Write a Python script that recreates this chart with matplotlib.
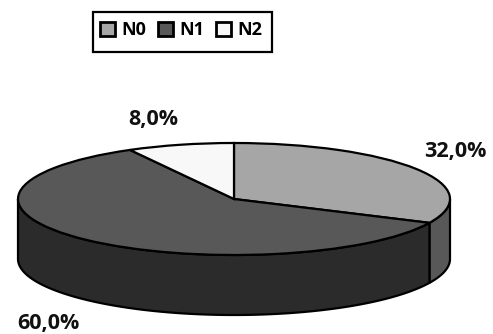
import numpy as np
import matplotlib
matplotlib.use("Agg")
import matplotlib.pyplot as plt
from matplotlib.patches import Rectangle

labels = ["N0", "N1", "N2"]
values = [32.0, 60.0, 8.0]
value_labels = ["32,0%", "60,0%", "8,0%"]
top_colors = ["#a6a6a6", "#585858", "#f8f8f8"]
side_colors = ["#585858", "#2b2b2b", "#f8f8f8"]

DEPTH = 60 / 56  # wall height, in units of the squashed radius
LW = 1.6

plt.rcParams["font.family"] = ["Open Sans", "DejaVu Sans"]
plt.rcParams["font.weight"] = "bold"

fig = plt.figure(figsize=(4.93, 3.34), dpi=100)
ax = fig.add_axes([0, 0, 1, 1])

wedges, _ = ax.pie(values, colors=top_colors, startangle=90, counterclock=False,
                   radius=1, center=(0, 0),
                   wedgeprops={"edgecolor": "black", "linewidth": LW, "zorder": 3})

# pie forces equal aspect, squash it into an ellipse afterwards
ax.set_aspect("auto")
ax.set_xlim(-234 / 216, 259 / 216)
ax.set_ylim(-135 / 56, 199 / 56)
ax.axis("off")

# side wall: only the part of each slice facing the viewer (-180 to 0 degrees)
for w, col in zip(wedges, side_colors):
    a1 = max(w.theta1, -180)
    a2 = min(w.theta2, 0)
    if a1 >= a2:
        continue
    t = np.radians(np.linspace(a1, a2, 120))
    xs = np.cos(t)
    ys = np.sin(t)
    ax.fill(np.r_[xs, xs[::-1]], np.r_[ys, ys[::-1] - DEPTH],
            facecolor=col, edgecolor="black", linewidth=LW, zorder=2,
            joinstyle="round")

label_pos = [(455, 152), (48, 323), (153, 120)]
for txt, (px, py) in zip(value_labels, label_pos):
    ax.annotate(txt, xy=(px / 493, 1 - py / 334), xycoords="axes fraction",
                ha="center", va="center", fontsize=15.5, color="#111111")

# legend frame is drawn by hand, its padding is not even on both sides
ax.add_patch(Rectangle((93 / 493, 1 - 51.5 / 334), 179 / 493, 39.5 / 334,
                       transform=ax.transAxes, facecolor="white",
                       edgecolor="black", linewidth=LW, zorder=4))
leg = ax.legend(wedges, labels, ncols=3, loc="center left",
                bbox_to_anchor=(93 / 493, 1 - 30 / 334), frameon=False,
                fontsize=13, handlelength=0.83, handleheight=0.78,
                handletextpad=0.33, columnspacing=0.67, borderpad=0.39,
                borderaxespad=0)
leg.set_zorder(5)
for h in leg.legend_handles:
    h.set_linewidth(2.0)

fig.savefig("out.png", dpi=100)
